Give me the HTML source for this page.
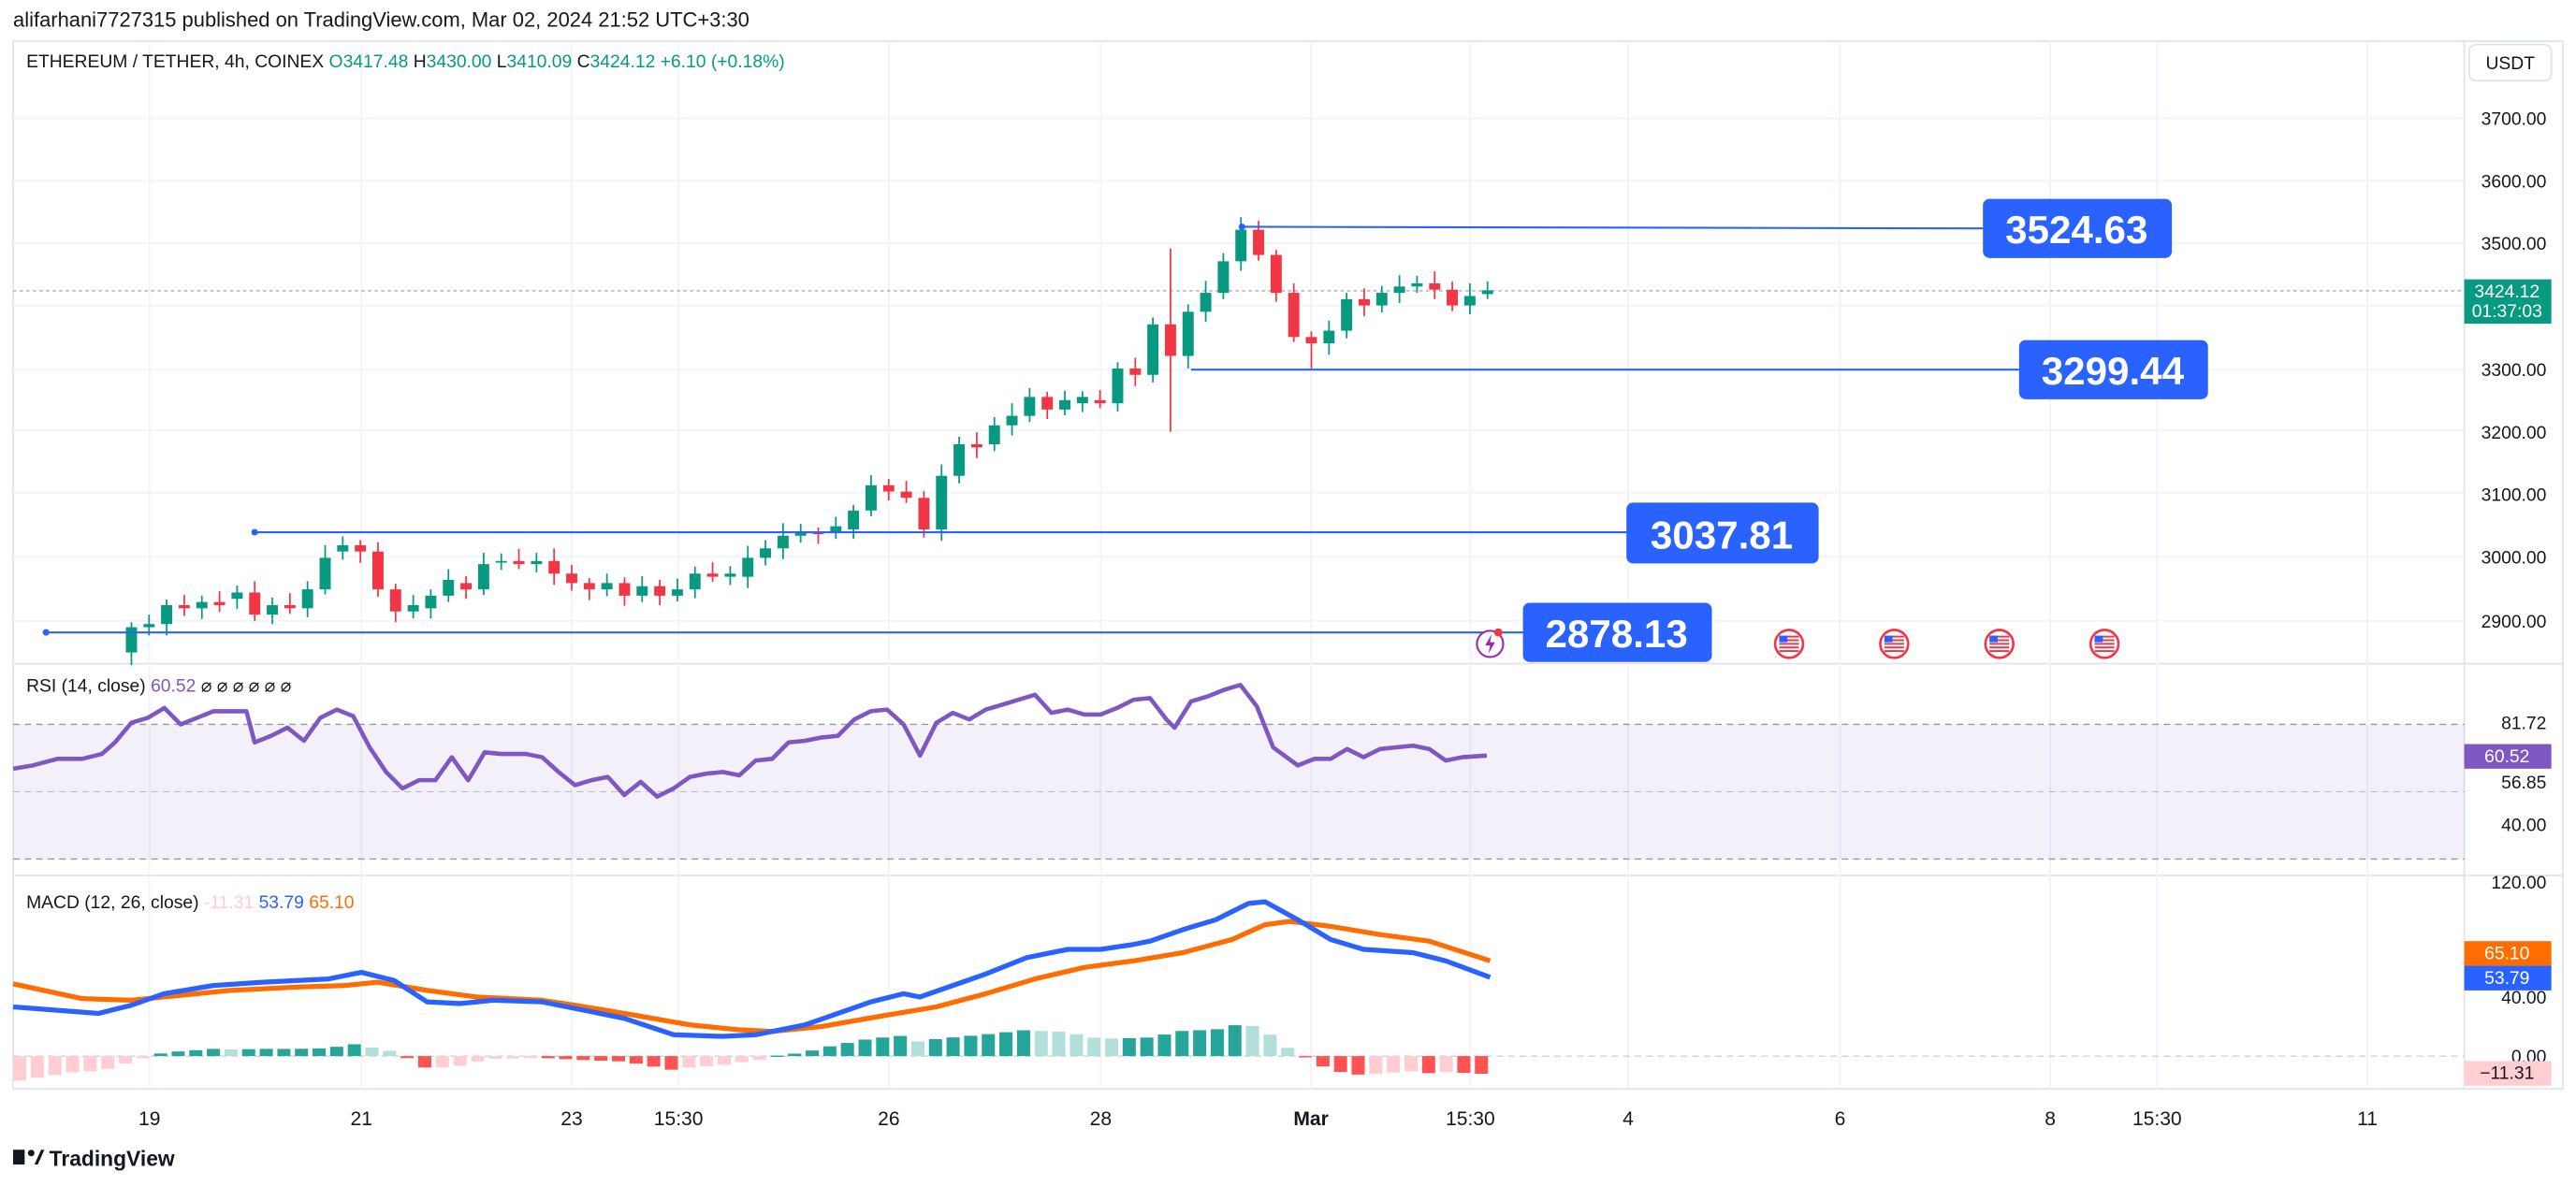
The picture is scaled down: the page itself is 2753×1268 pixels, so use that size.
<!DOCTYPE html>
<html><head><meta charset="utf-8"><style>
html,body{margin:0;padding:0;background:#fff;}
svg{display:block;font-family:"Liberation Sans",sans-serif;}
</style></head><body>
<svg id="s" width="2753" height="1268" viewBox="0 0 1568 722" xmlns="http://www.w3.org/2000/svg">
<rect width="1568" height="722" fill="#fff"/>
<text x="8" y="16" font-size="12.5" fill="#131722">alifarhani7727315 published on TradingView.com, Mar 02, 2024 21:52 UTC+3:30</text>
<rect x="8" y="25" width="1552" height="638" fill="none" stroke="#e0e3eb" stroke-width="1"/>
<line x1="1500" y1="25" x2="1500" y2="663" stroke="#e0e3eb"/>
<line x1="8" y1="404" x2="1560" y2="404" stroke="#e0e3eb"/>
<line x1="8" y1="533" x2="1560" y2="533" stroke="#e0e3eb"/>
<g id="grid"></g>
<rect x="8" y="441" width="1492" height="82" fill="#7e57c2" fill-opacity="0.09"/>
<line x1="8" y1="441" x2="1500" y2="441" stroke="#9598a1" stroke-dasharray="4,3" stroke-width="0.8"/>
<line x1="8" y1="482" x2="1500" y2="482" stroke="#9598a1" stroke-dasharray="4,3" stroke-width="0.6" opacity="0.6"/>
<line x1="8" y1="523" x2="1500" y2="523" stroke="#9598a1" stroke-dasharray="4,3" stroke-width="0.8"/>
<line x1="8" y1="643" x2="1500" y2="643" stroke="#9598a1" stroke-dasharray="4,3" stroke-width="0.6" opacity="0.6"/>
<line x1="8" y1="177" x2="1500" y2="177" stroke="#9598a1" stroke-dasharray="2,2" stroke-width="0.6"/>
<g id="candles"></g>
<g id="hist"></g>
<polyline id="rsi" fill="none" stroke="#7e57c2" stroke-width="2.6" stroke-linejoin="round"/>
<polyline id="sig" fill="none" stroke="#ff6d00" stroke-width="3" stroke-linejoin="round"/>
<polyline id="macd" fill="none" stroke="#2962ff" stroke-width="3" stroke-linejoin="round"/>
<g stroke="#2962ff" stroke-width="1.2">
<line x1="756" y1="138" x2="1207" y2="139"/>
<line x1="725" y1="225" x2="1229" y2="225"/>
<line x1="155" y1="324" x2="992" y2="324"/>
<line x1="28" y1="385" x2="927" y2="385"/>
</g>
<g fill="#2962ff"><circle cx="756" cy="138" r="2"/><circle cx="155" cy="324" r="2"/><circle cx="28" cy="385" r="2"/></g>
<g font-size="24" font-weight="bold" fill="#fff">
<rect x="1207" y="121" width="115" height="36" rx="4" fill="#2962ff"/><text x="1264" y="148" text-anchor="middle">3524.63</text>
<rect x="1229" y="207" width="115" height="36" rx="4" fill="#2962ff"/><text x="1286" y="234" text-anchor="middle">3299.44</text>
<rect x="990" y="306" width="117" height="37" rx="4" fill="#2962ff"/><text x="1048" y="334" text-anchor="middle">3037.81</text>
<rect x="927" y="367" width="115" height="36" rx="4" fill="#2962ff"/><text x="984" y="394" text-anchor="middle">2878.13</text>
</g>
<g>
<circle cx="907" cy="392" r="8" fill="#fff" stroke="#9c27b0" stroke-width="1.2"/><path d="M908 386 L904 393 L907 393 L906 398 L910 391 L907 391Z" fill="#9c27b0"/>
<circle cx="912" cy="385" r="2.5" fill="#f23645"/>
<g id="flags"></g>
</g>
<text x="16" y="41" font-size="11" fill="#131722">ETHEREUM / TETHER, 4h, COINEX <tspan fill="#089981">O</tspan><tspan fill="#089981">3417.48 </tspan>H<tspan fill="#089981">3430.00 </tspan>L<tspan fill="#089981">3410.09 </tspan>C<tspan fill="#089981">3424.12 +6.10 (+0.18%)</tspan></text>
<text x="16" y="421" font-size="11" fill="#131722">RSI (14, close) <tspan fill="#7e57c2">60.52</tspan> <tspan fill="#131722">⌀ ⌀ ⌀ ⌀ ⌀ ⌀</tspan></text>
<text x="16" y="553" font-size="11" fill="#131722">MACD (12, 26, close) <tspan fill="#ffcdd2">-11.31</tspan> <tspan fill="#2962ff">53.79</tspan> <tspan fill="#ff6d00">65.10</tspan></text>
<rect x="1503" y="27" width="50" height="22" rx="4" fill="#fff" stroke="#e0e3eb"/>
<text x="1528" y="42" font-size="11" text-anchor="middle" fill="#131722">USDT</text>
<g font-size="11" fill="#131722" text-anchor="end">
<text x="1550" y="76">3700.00</text><text x="1550" y="114">3600.00</text><text x="1550" y="152">3500.00</text>
<text x="1550" y="229">3300.00</text><text x="1550" y="267">3200.00</text><text x="1550" y="305">3100.00</text>
<text x="1550" y="343">3000.00</text><text x="1550" y="382">2900.00</text>
<text x="1550" y="444">81.72</text><text x="1550" y="480">56.85</text><text x="1550" y="506">40.00</text>
<text x="1550" y="541">120.00</text><text x="1550" y="611">40.00</text><text x="1550" y="647">0.00</text>
</g>
<rect x="1500" y="170" width="53" height="27" fill="#089981"/>
<text x="1526" y="181" font-size="11" fill="#fff" text-anchor="middle">3424.12</text>
<text x="1526" y="193" font-size="11" fill="#fff" text-anchor="middle">01:37:03</text>
<rect x="1500" y="453" width="53" height="15" fill="#7e57c2"/><text x="1526" y="464" font-size="11" fill="#fff" text-anchor="middle">60.52</text>
<rect x="1500" y="573" width="53" height="15" fill="#ff6d00"/><text x="1526" y="584" font-size="11" fill="#fff" text-anchor="middle">65.10</text>
<rect x="1500" y="588" width="53" height="15" fill="#2962ff"/><text x="1526" y="599" font-size="11" fill="#fff" text-anchor="middle">53.79</text>
<rect x="1500" y="646" width="53" height="15" fill="#ffcdd2"/><text x="1526" y="657" font-size="11" fill="#131722" text-anchor="middle">−11.31</text>
<g font-size="12" fill="#131722" text-anchor="middle">
<text x="91" y="685">19</text><text x="220" y="685">21</text><text x="348" y="685">23</text><text x="413" y="685">15:30</text>
<text x="541" y="685">26</text><text x="670" y="685">28</text><text x="798" y="685" font-weight="bold">Mar</text><text x="895" y="685">15:30</text>
<text x="991" y="685">4</text><text x="1120" y="685">6</text><text x="1248" y="685">8</text><text x="1313" y="685">15:30</text><text x="1441" y="685">11</text>
</g>
<g><rect x="8" y="700" width="7" height="9" fill="#131722"/><circle cx="19" cy="702" r="2" fill="#131722"/><path d="M21 709 L25 700 L27 700 L23 709Z" fill="#131722"/>
<text x="30" y="710" font-size="13" font-weight="bold" fill="#131722">TradingView</text></g>
</svg>
<script>
var NS="http://www.w3.org/2000/svg";
function el(t,a,p){var e=document.createElementNS(NS,t);for(var k in a)e.setAttribute(k,a[k]);document.getElementById(p).appendChild(e);return e;}
[72,110,148,186,225,262,300,339,378].forEach(function(y){el("line",{x1:8,y1:y,x2:1500,y2:y,stroke:"#f0f3fa","stroke-width":1},"grid");});
[91,220,348,413,541,670,798,895,991,1120,1248,1313,1441].forEach(function(x){el("line",{x1:x,y1:25,x2:x,y2:663,stroke:"#f0f3fa","stroke-width":1},"grid");});
[1089,1153,1217,1281].forEach(function(cx){var cy=392;
el("circle",{cx:cx,cy:cy,r:8.5,fill:"#fff",stroke:"#f23645","stroke-width":1.5},"flags");
for(var i=0;i<5;i++)el("rect",{x:cx-6,y:cy-5+i*2.2,width:12,height:1.1,fill:"#f23645"},"flags");
el("rect",{x:cx-6,y:cy-5,width:5,height:4,fill:"#2962ff"},"flags");});
function py(p){return 378-(p-2900)*0.3842;}
var d=[[2850,2890],[2890,2895],[2895,2925],[2925,2920],[2920,2930],[2930,2925],[2935,2945],[2945,2910],[2910,2925],[2925,2920],[2920,2950],[2950,3000],[3010,3020],[3020,3010],[3010,2950],[2950,2915],[2915,2925],[2920,2940],[2940,2965],[2960,2950],[2950,2990],[2995,2995],[2995,2990],[2990,2995],[2995,2975],[2975,2960],[2960,2950],[2950,2960],[2960,2940],[2940,2955],[2955,2940],[2940,2950],[2950,2975],[2975,2970],[2970,2975],[2970,3000],[3000,3015],[3015,3035],[3035,3040],[3040,3038],[3040,3050],[3045,3075],[3075,3115],[3115,3105],[3105,3095],[3095,3045],[3045,3130],[3130,3180],[3180,3175],[3180,3210],[3210,3225],[3225,3255],[3255,3235],[3235,3250],[3245,3255],[3250,3245],[3245,3300],[3300,3290],[3290,3370],[3370,3320],[3320,3390],[3390,3420],[3420,3470],[3470,3520],[3520,3480],[3480,3420],[3420,3350],[3350,3340],[3340,3360],[3360,3410],[3410,3400],[3400,3420],[3420,3430],[3430,3435],[3435,3425],[3425,3400],[3400,3415],[3418,3424]];
d.forEach(function(c,i){var x=80+i*10.72,o=c[0],cl=c[1];var up=cl>=o;var col=up?"#089981":"#f23645";
var hi=Math.max(o,cl)+8+(i*7%13),lo=Math.min(o,cl)-8-(i*5%11);
if(i==59){hi=3490;lo=3200;} if(i==60){lo=3300;} if(i==67){lo=3300;} if(i==0){lo=2830;}
el("line",{x1:x,y1:py(hi),x2:x,y2:py(lo),stroke:col,"stroke-width":1},"candles");
var y1=py(Math.max(o,cl)),y2=py(Math.min(o,cl));el("rect",{x:x-3.4,y:y1,width:6.8,height:Math.max(1,y2-y1),fill:col},"candles");});
var rsi=[[8,468],[20,466],[35,462],[50,462],[62,459],[70,452],[80,440],[90,437],[100,431],[110,441],[120,437],[130,433],[140,433],[150,433],[155,452],[165,448],[175,443],[185,451],[195,437],[205,432],[215,436],[225,455],[235,470],[245,480],[255,475],[265,475],[275,461],[285,475],[295,458],[305,459],[320,459],[330,461],[340,470],[350,478],[360,475],[370,473],[380,484],[390,476],[400,485],[410,480],[420,473],[430,471],[440,470],[450,472],[460,463],[470,462],[480,452],[490,451],[500,449],[510,448],[520,438],[530,433],[540,432],[550,441],[560,460],[570,440],[580,434],[590,438],[600,432],[610,429],[620,426],[630,423],[640,434],[650,432],[660,435],[670,435],[680,431],[690,426],[700,425],[710,438],[715,443],[725,427],[735,424],[745,420],[755,417],[765,430],[775,455],[790,466],[800,462],[810,462],[820,456],[830,461],[840,456],[850,455],[860,454],[870,456],[880,463],[890,461],[905,460]];
document.getElementById("rsi").setAttribute("points",rsi.map(function(p){return p.join(",");}).join(" "));
var m=[[8,613],[60,617],[80,612],[100,605],[130,600],[160,598],[200,596],[220,592],[240,597],[260,610],[280,611],[300,609],[330,610],[350,614],[380,620],[410,630],[440,631],[460,630],[490,624],[510,617],[530,610],[550,605],[560,607],[580,600],[600,593],[625,583],[650,578],[670,578],[690,575],[700,573],[720,566],[740,560],[760,550],[770,549],[790,560],[810,572],[830,578],[860,580],[880,585],[907,595]];
var s=[[8,599],[50,608],[80,609],[110,606],[140,603],[180,601],[210,600],[230,598],[260,603],[290,607],[330,609],[350,612],[380,617],[420,624],[450,627],[470,628],[500,625],[540,618],[570,613],[600,605],[630,596],[660,589],[690,585],[720,580],[750,572],[770,563],[785,561],[810,564],[840,569],[870,573],[907,585]];
document.getElementById("macd").setAttribute("points",m.map(function(p){return p.join(",");}).join(" "));
document.getElementById("sig").setAttribute("points",s.map(function(p){return p.join(",");}).join(" "));
function interp(a,x){for(var i=1;i<a.length;i++){if(x<=a[i][0]){var t=(x-a[i-1][0])/(a[i][0]-a[i-1][0]);return a[i-1][1]+t*(a[i][1]-a[i-1][1]);}}return a[a.length-1][1];}
var prev=null;
for(var x=12;x<=907;x+=10.72){var h=(interp(s,x)-interp(m,x))*1.1;var col;
if(h>=0)col=(prev===null||h>=prev)?"#26a69a":"#b2dfdb";else col=(prev!==null&&h<prev)?"#ff5252":"#ffcdd2";
prev=h;var y=h>=0?643-h:643;el("rect",{x:x-4,y:y,width:8,height:Math.max(0.8,Math.abs(h)),fill:col},"hist");}
</script>
</body></html>
